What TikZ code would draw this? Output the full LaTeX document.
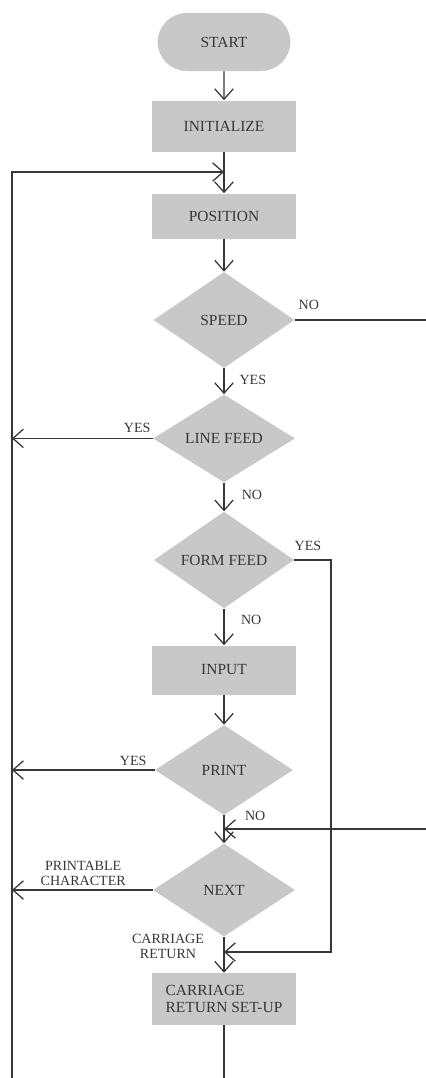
\documentclass[tikz,border=0pt]{standalone}
\usepackage{fontspec}
\setmainfont{Liberation Serif}
\usepackage{tikz}
\usetikzlibrary{arrows.meta,shapes.geometric,shapes.misc}
\definecolor{BoxGray}{RGB}{200,200,200}
\definecolor{InkGray}{RGB}{55,55,55}

\begin{document}
\begin{tikzpicture}[
 term/.style={rounded rectangle, fill=BoxGray, text=InkGray, minimum width=3.55cm, minimum height=1.45cm},
 proc/.style={rectangle, fill=BoxGray, text=InkGray, align=center, minimum width=3.6cm, minimum height=1.25cm},
 dec/.style={diamond, fill=BoxGray, text=InkGray, inner sep=0pt, minimum width=3.55cm, minimum height=2.25cm},
 arr/.style={-{Straight Barb[length=2.6mm,width=4.6mm]}, line width=0.9pt, draw=InkGray},
 ln/.style={line width=0.9pt, draw=InkGray},
 lbl/.style={text=InkGray, font=\fontsize{10}{11}\selectfont, align=center, inner sep=0pt},
 font=\fontsize{11}{12}\selectfont
]
\useasboundingbox (0,0) rectangle (10.65,-26.95);

\node[term] (start) at (5.6,-1.05) {START};
\node[proc, minimum height=1.275cm] (init) at (5.6,-3.15) {INITIALIZE};
\node[proc, minimum height=1.125cm] (position) at (5.6,-5.4) {POSITION};
\node[dec, minimum width=3.525cm, minimum height=2.4cm] (speed) at (5.6,-8.0) {SPEED};
\node[dec, minimum height=2.175cm] (linefeed) at (5.6,-10.96) {LINE FEED};
\node[dec, minimum width=3.5cm, minimum height=2.175cm] (formfeed) at (5.6,-14.0) {FORM FEED};
\node[proc, minimum height=1.225cm] (input) at (5.6,-16.75) {INPUT};
\node[dec, minimum width=3.45cm, minimum height=2.25cm] (print) at (5.6,-19.25) {PRINT};
\node[dec, minimum height=2.325cm] (next) at (5.6,-22.25) {NEXT};
\node[proc, align=left, minimum height=1.3cm] (crsetup) at (5.6,-24.975) {CARRIAGE\\RETURN SET-UP};

% join points and open ends
\coordinate (loopin) at (5.6,-4.3);
\coordinate (loopcorner) at (0.3,-4.3);
\coordinate (loopbot) at (0.3,-26.95);
\coordinate (lfleft) at (0.3,-10.96);
\coordinate (prleft) at (0.3,-19.25);
\coordinate (nxleft) at (0.3,-22.25);
\coordinate (speedout) at (10.65,-8.0);
\coordinate (noin) at (10.65,-20.725);
\coordinate (nojoin) at (5.6,-20.725);
\coordinate (ffright) at (8.275,-14.0);
\coordinate (ffdown) at (8.275,-23.8);
\coordinate (crjoin) at (5.6,-23.8);
\coordinate (crbot) at (5.6,-26.95);

\draw[arr] (start) -- (init);
\draw[arr] (init) -- (position);
\draw[arr] (loopbot) -- (loopcorner) -- (loopin);
\draw[arr] (position) -- (speed);
\draw[ln] (speed.east) -- (speedout);
\draw[arr] (speed) -- (linefeed);
\draw[arr] (linefeed.west) -- (lfleft);
\draw[arr] (linefeed) -- (formfeed);
\draw[arr] (formfeed.east) -- (ffright) -- (ffdown) -- (crjoin);
\draw[arr] (formfeed) -- (input);
\draw[arr] (input) -- (print);
\draw[arr] (print.west) -- (prleft);
\draw[arr] (print) -- (next);
\draw[arr] (noin) -- (nojoin);
\draw[arr] (next.west) -- (nxleft);
\draw[arr] (next) -- (crsetup);
\draw[ln] (crsetup) -- (crbot);

\node[lbl] (l1) at (7.72,-7.62) {NO};
\node[lbl] (l2) at (6.32,-9.5) {YES};
\node[lbl] (l3) at (3.43,-10.7) {YES};
\node[lbl] (l4) at (6.3,-12.38) {NO};
\node[lbl] (l5) at (7.7,-13.65) {YES};
\node[lbl] (l6) at (6.28,-15.5) {NO};
\node[lbl] (l7) at (3.33,-19.03) {YES};
\node[lbl] (l8) at (6.38,-20.4) {NO};
\node[lbl] (l9) at (2.08,-21.84) {PRINTABLE\\CHARACTER};
\node[lbl] (l10) at (4.2,-23.66) {CARRIAGE\\RETURN};
\end{tikzpicture}
\end{document}
